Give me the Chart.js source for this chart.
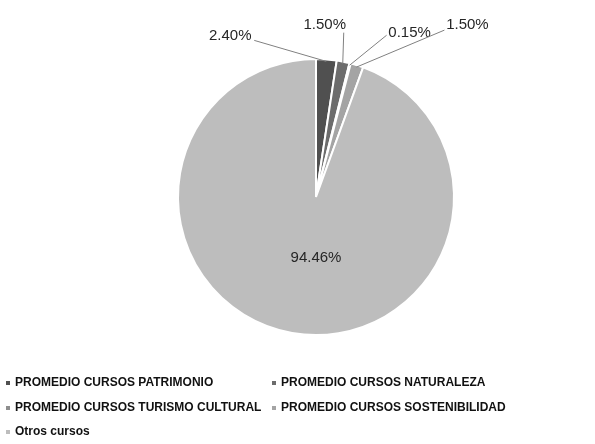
<!DOCTYPE html>
<html>
<head>
<meta charset="utf-8">
<script src="https://cdn.jsdelivr.net/npm/chart.js@4"></script>
<style>
  html, body { margin: 0; padding: 0; background: #fff; }
  #wrap { width: 595px; height: 444px; }
</style>
</head>
<body>
<div id="wrap"><canvas id="pie-chart" width="595" height="444"></canvas></div>
<script>
// Chart data
const categories = [
  'PROMEDIO CURSOS PATRIMONIO',
  'PROMEDIO CURSOS NATURALEZA',
  'PROMEDIO CURSOS TURISMO CULTURAL',
  'PROMEDIO CURSOS SOSTENIBILIDAD',
  'Otros cursos'
];
const percentages = [2.40, 1.50, 0.15, 1.50, 94.46];
const valueLabels = ['2.40%', '1.50%', '0.15%', '1.50%', '94.46%'];

const sliceColors = ['#505050', '#6c6c6c', '#8e8e8e', '#a4a4a4', '#bdbdbd'];

// where each outside label sits relative to its slice edge, and where its leader line starts
// (null = label drawn inside the slice)
const callouts = [
  { dx: -96, dy: -26, lx: 24, ly: 5 },
  { dx: -18, dy: -39, lx: 19, ly: 8 },
  { dx: 60, dy: -32, lx: -23, ly: 2 },
  { dx: 111, dy: -42, lx: -23, ly: 5 },
  null
];

// Draws the percentage labels and leader lines
const sliceLabels = {
  id: 'sliceLabels',
  afterDatasetsDraw(chart) {
    const ctx = chart.ctx;
    const arcs = chart.getDatasetMeta(0).data;
    ctx.save();
    ctx.font = '15px Arial, "Liberation Sans", sans-serif';
    ctx.textAlign = 'center';
    ctx.textBaseline = 'middle';
    arcs.forEach((arc, i) => {
      const mid = (arc.startAngle + arc.endAngle) / 2;
      const c = callouts[i];
      if (!c) {
        ctx.fillStyle = '#262626';
        ctx.fillText(valueLabels[i], arc.x, arc.y + arc.outerRadius * 0.44);
        return;
      }
      const ax = arc.x + Math.cos(mid) * (arc.outerRadius - 2);
      const ay = arc.y + Math.sin(mid) * (arc.outerRadius - 2);
      const tx = ax + c.dx;
      const ty = ay + c.dy;
      ctx.strokeStyle = '#808080';
      ctx.lineWidth = 1;
      ctx.beginPath();
      ctx.moveTo(tx + c.lx, ty + c.ly);
      ctx.lineTo(ax, ay);
      ctx.stroke();
      ctx.fillStyle = '#262626';
      ctx.fillText(valueLabels[i], tx, ty);
    });
    ctx.restore();
  }
};

// Two-column legend under the pie
const columnLegend = {
  id: 'columnLegend',
  afterDraw(chart) {
    const ctx = chart.ctx;
    const colX = [6, 272];
    const rowY = [383, 408, 432];
    ctx.save();
    ctx.font = 'bold 12px Arial, "Liberation Sans", sans-serif';
    ctx.textAlign = 'left';
    ctx.textBaseline = 'middle';
    chart.data.labels.forEach((label, i) => {
      const x = colX[i % 2];
      const y = rowY[Math.floor(i / 2)];
      ctx.fillStyle = chart.data.datasets[0].backgroundColor[i];
      ctx.fillRect(x, y - 2, 4, 4);
      ctx.fillStyle = '#111';
      ctx.fillText(label, x + 9, y);
    });
    ctx.restore();
  }
};

const ctx = document.getElementById('pie-chart').getContext('2d');
new Chart(ctx, {
  type: 'pie',
  data: {
    labels: categories,
    datasets: [{
      data: percentages,
      backgroundColor: sliceColors,
      borderColor: '#ffffff',
      borderWidth: 2
    }]
  },
  options: {
    responsive: false,
    animation: false,
    layout: { padding: { top: 58, bottom: 108, left: 177, right: 140 } },
    plugins: {
      legend: { display: false },
      tooltip: { enabled: false }
    }
  },
  plugins: [sliceLabels, columnLegend]
});
</script>
</body>
</html>
